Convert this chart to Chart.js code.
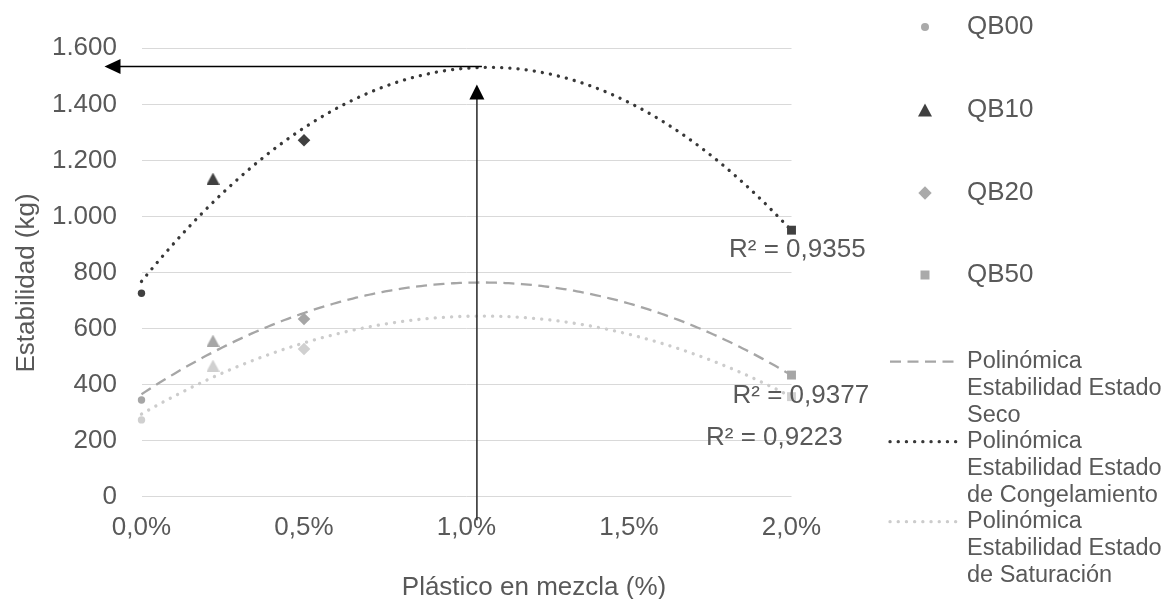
<!DOCTYPE html>
<html><head><meta charset="utf-8">
<script src="https://cdn.jsdelivr.net/npm/chart.js@4/dist/chart.umd.min.js"></script>
<style>html,body{margin:0;padding:0;background:#fff;}#wrap{width:1169px;height:599px;}</style>
</head><body><div id="wrap"><canvas id="c" width="1169" height="599"></canvas></div>
<script>
// ---------------- data ----------------
const categories = ['QB00', 'QB10', 'QB20', 'QB50'];
const plasticPct = [0, 0.22, 0.5, 2.0];              // % plastic in mix
const estadoSeco = [345, 557, 634, 434];
const estadoCongelamiento = [726, 1135, 1272, 951];
const estadoSaturacion = [274, 468, 527, 357];
const trendNames = [
  ['Polinómica', 'Estabilidad Estado', 'Seco'],
  ['Polinómica', 'Estabilidad Estado', 'de Congelamiento'],
  ['Polinómica', 'Estabilidad Estado', 'de Saturación']
];
const r2Labels = ['R² = 0,9377', 'R² = 0,9355', 'R² = 0,9223'];
const yTickValues = [0, 200, 400, 600, 800, 1000, 1200, 1400, 1600];
const yTickLabels = ['0', '200', '400', '600', '800', '1.000', '1.200', '1.400', '1.600'];
const xTickValues = [0, 0.5, 1, 1.5, 2];
const xTickLabels = ['0,0%', '0,5%', '1,0%', '1,5%', '2,0%'];
const peakPct = 1.032;     // arrow annotation
const peakValue = 1535;
const xTitle = 'Plástico en mezcla (%)';
const yTitle = 'Estabilidad (kg)';

// ---------------- styles ----------------
const FONT = '"Liberation Sans", Arial, sans-serif';
const TXT = '#595959';
const C_CONG = '#404040', C_SECO = '#a6a6a6', C_SAT = '#d0d0d0';

// least-squares quadratic fit (Excel "Polinómica" order 2 trendline)
function quadFit(xs, ys) {
  let S = [0,0,0,0,0], T = [0,0,0];
  for (let i = 0; i < xs.length; i++) {
    let p = 1;
    for (let k = 0; k < 5; k++) { S[k] += p; p *= xs[i]; }
    T[0] += ys[i]; T[1] += ys[i]*xs[i]; T[2] += ys[i]*xs[i]*xs[i];
  }
  const M = [[S[0],S[1],S[2],T[0]],[S[1],S[2],S[3],T[1]],[S[2],S[3],S[4],T[2]]];
  for (let c = 0; c < 3; c++) {
    for (let r = c+1; r < 3; r++) {
      const f = M[r][c]/M[c][c];
      for (let k = c; k < 4; k++) M[r][k] -= f*M[c][k];
    }
  }
  const s = [0,0,0];
  for (let r = 2; r >= 0; r--) {
    let v = M[r][3];
    for (let k = r+1; k < 3; k++) v -= M[r][k]*s[k];
    s[r] = v/M[r][r];
  }
  return s; // a, b, c
}
function trendPoints(ys) {
  const [a, b, c] = quadFit(plasticPct, ys);
  const lo = Math.min(...plasticPct), hi = Math.max(...plasticPct);
  const pts = [];
  for (let i = 0; i <= 200; i++) { const x = lo + (hi-lo)*i/200; pts.push({x, y: a + b*x + c*x*x}); }
  return pts;
}

// bbox-centred triangle marker (Excel style)
function triCanvas(color, w, h) {
  const cv = document.createElement('canvas'); cv.width = w; cv.height = h;
  const g = cv.getContext('2d'); g.fillStyle = color;
  g.beginPath(); g.moveTo(w/2, 0); g.lineTo(w, h); g.lineTo(0, h); g.closePath(); g.fill();
  return cv;
}

const states = [estadoCongelamiento, estadoSeco, estadoSaturacion];
const stateColors = [C_CONG, C_SECO, C_SAT];
const styles = ['circle', 'triangle', 'rectRot', 'rect'];
const radii = [3.7, 7, 6.3, 6.3];

const datasets = [];
categories.forEach((name, i) => {
  datasets.push({
    label: name,
    data: states.map(s => ({x: plasticPct[i], y: s[i]})),
    showLine: false,
    clip: false,
    pointStyle: styles[i] === 'triangle' ? stateColors.map(c => triCanvas(c, 13, 12)) : styles[i],
    pointRadius: radii[i],
    pointBackgroundColor: stateColors,
    pointBorderColor: stateColors,
    pointBorderWidth: 0,
    order: 0
  });
});
const trendSeries = [estadoSeco, estadoCongelamiento, estadoSaturacion];
const trendStyles = [
  {color: C_SECO, width: 2.3, dash: [11, 6.5], cap: 'butt'},
  {color: '#383838', width: 3.3, dash: [0.1, 8.1], cap: 'round'},
  {color: '#cccccc', width: 3.3, dash: [0.1, 8.1], cap: 'round'}
];
trendSeries.forEach((s, i) => {
  datasets.push({
    label: trendNames[i].join(' '),
    data: trendPoints(s),
    showLine: true,
    clip: false,
    pointRadius: 0,
    borderColor: trendStyles[i].color,
    borderWidth: trendStyles[i].width,
    borderDash: trendStyles[i].dash,
    borderCapStyle: trendStyles[i].cap,
    tension: 0,
    fill: false,
    order: 1
  });
});

function drawMarker(ctx, style, x, y, color) {
  ctx.fillStyle = color; ctx.beginPath();
  if (style === 'circle') ctx.arc(x, y, 4, 0, Math.PI*2);
  else if (style === 'triangle') { ctx.moveTo(x, y-6.5); ctx.lineTo(x+7, y+6.5); ctx.lineTo(x-7, y+6.5); ctx.closePath(); }
  else if (style === 'rectRot') { ctx.moveTo(x, y-6.7); ctx.lineTo(x+6.7, y); ctx.lineTo(x, y+6.7); ctx.lineTo(x-6.7, y); ctx.closePath(); }
  else ctx.rect(x-4.5, y-4.5, 9, 9);
  ctx.fill();
}

const overlay = {
  id: 'overlay',
  afterDatasetsDraw(chart) {
    const ctx = chart.ctx, xs = chart.scales.x, ys = chart.scales.y, ca = chart.chartArea;
    const px = xs.getPixelForValue(peakPct), py = ys.getPixelForValue(peakValue);
    ctx.save();
    // horizontal arrow
    ctx.strokeStyle = '#000'; ctx.fillStyle = '#000'; ctx.lineWidth = 1.6;
    const tipX = ca.left - 37;
    ctx.beginPath(); ctx.moveTo(px + 5, py); ctx.lineTo(tipX + 14, py); ctx.stroke();
    ctx.beginPath(); ctx.moveTo(tipX, py); ctx.lineTo(tipX + 16, py - 7.5); ctx.lineTo(tipX + 16, py + 7.5); ctx.closePath(); ctx.fill();
    // vertical arrow
    ctx.strokeStyle = '#333';
    const tipY = py + 18;
    ctx.beginPath(); ctx.moveTo(px, ca.bottom + 23.5); ctx.lineTo(px, tipY + 13); ctx.stroke();
    ctx.fillStyle = '#000';
    ctx.beginPath(); ctx.moveTo(px, tipY); ctx.lineTo(px + 7.5, tipY + 15); ctx.lineTo(px - 7.5, tipY + 15); ctx.closePath(); ctx.fill();
    ctx.restore();
  },
  afterDraw(chart) {
    const ctx = chart.ctx, xs = chart.scales.x;
    ctx.save();
    ctx.fillStyle = TXT;
    // axis titles
    ctx.font = '26px ' + FONT;
    ctx.textAlign = 'center'; ctx.textBaseline = 'alphabetic';
    ctx.fillText(xTitle, 534, 595);
    ctx.save(); ctx.translate(34, 283); ctx.rotate(-Math.PI/2);
    ctx.fillText(yTitle, 0, 0); ctx.restore();
    // R² labels
    const x2 = xs.getPixelForValue(2);
    const r2Pos = [[x2 - 59, 395.5], [x2 - 62.5, 250], [x2 - 85.5, 438]];
    ctx.textAlign = 'left'; ctx.textBaseline = 'middle';
    r2Labels.forEach((t, i) => ctx.fillText(t, r2Pos[i][0], r2Pos[i][1]));
    // legend
    const qbY = [27, 110, 193, 275];
    categories.forEach((name, i) => {
      drawMarker(ctx, styles[i], 925, qbY[i], i === 1 ? C_CONG : '#aaaaaa');
      ctx.fillStyle = TXT; ctx.font = '26px ' + FONT;
      ctx.fillText(name, 967, qbY[i]);
    });
    trendNames.forEach((lines, i) => {
      const y0 = 361.7 + 80 * i;
      const st = trendStyles[i];
      ctx.save();
      ctx.strokeStyle = st.color; ctx.lineWidth = st.width; ctx.setLineDash(st.dash); ctx.lineCap = st.cap;
      ctx.beginPath(); ctx.moveTo(890, y0); ctx.lineTo(957, y0); ctx.stroke();
      ctx.restore();
      ctx.fillStyle = TXT; ctx.font = '23.5px ' + FONT;
      lines.forEach((t, j) => ctx.fillText(t, 967, y0 + j * 26.7));
    });
    ctx.restore();
  }
};

new Chart(document.getElementById('c'), {
  type: 'scatter',
  data: { datasets },
  plugins: [overlay],
  options: {
    responsive: false,
    animation: false,
    devicePixelRatio: 1,
    layout: { padding: { left: 0, right: 1169 - 791.5, top: 48.3, bottom: 0 } },
    plugins: { legend: { display: false }, tooltip: { enabled: false } },
    scales: {
      x: {
        type: 'linear', min: 0, max: 2,
        afterFit: s => { s.height = 599 - 496.7; },
        afterBuildTicks: s => { s.ticks = xTickValues.map(v => ({value: v})); },
        grid: { display: false, drawTicks: false },
        border: { display: false },
        ticks: { padding: 16, color: TXT, font: { family: FONT, size: 26 },
                 maxRotation: 0, autoSkip: false,
                 callback: (v, i) => xTickLabels[i] }
      },
      y: {
        type: 'linear', min: 0, max: 1600,
        afterFit: s => { s.width = 141.5; },
        afterBuildTicks: s => { s.ticks = yTickValues.map(v => ({value: v})); },
        grid: { color: '#d9d9d9', lineWidth: 1, drawTicks: false },
        border: { display: false },
        ticks: { padding: 24.5, color: TXT, font: { family: FONT, size: 26 },
                 autoSkip: false,
                 callback: (v, i) => yTickLabels[i] }
      }
    }
  }
});
</script>
</body></html>
